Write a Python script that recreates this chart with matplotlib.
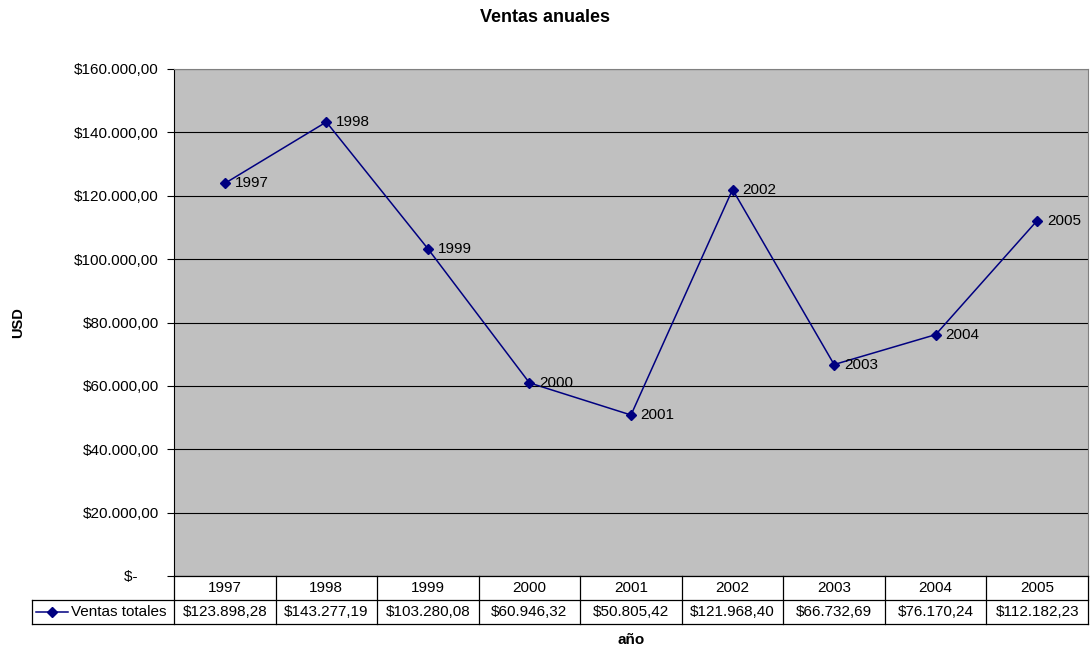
import matplotlib.pyplot as plt
from matplotlib.lines import Line2D
import numpy as np

plt.rcParams['font.family'] = ['Liberation Sans', 'DejaVu Sans']

years = ['1997', '1998', '1999', '2000', '2001', '2002', '2003', '2004', '2005']
ventas = [123898.28, 143277.19, 103280.08, 60946.32, 50805.42,
          121968.40, 66732.69, 76170.24, 112182.23]
yticks = np.arange(0, 160001, 20000)


def fmt_usd(v):
    s = '{:,.2f}'.format(v)
    return '$' + s.replace(',', 'X').replace('.', ',').replace('X', '.')


def fmt_tick(v):
    # accounting style: zero shows as a dash, padded like the other labels
    return '$-     ' if v == 0 else fmt_usd(v)


W, H = 1090, 650
fig = plt.figure(figsize=(W / 100, H / 100), dpi=100)

# plot area in pixel coordinates
x0, x1, ytop, ybot = 174, 1088, 69, 576
ax = fig.add_axes([x0 / W, 1 - ybot / H, (x1 - x0) / W, (ybot - ytop) / H])
ax.set_facecolor('#C0C0C0')

n = len(years)
xs = np.arange(n)
ax.set_xlim(-0.5, n - 0.5)
ax.set_ylim(0, 160000)
ax.set_yticks(yticks)
ax.set_yticklabels([fmt_tick(v) for v in yticks], fontsize=11)
ax.set_xticks([])
ax.yaxis.grid(True, color='black', linewidth=0.8)
ax.set_axisbelow(True)
ax.tick_params(axis='y', length=5, width=0.8, pad=6, direction='out')
for side in ['top', 'right']:
    ax.spines[side].set_color('#808080')
ax.spines['left'].set_color('black')
ax.spines['bottom'].set_visible(False)

ax.plot(xs, ventas, color='#000080', linewidth=1.1, marker='D', markersize=5.5,
        markerfacecolor='#000080', markeredgecolor='#000080')
for x, v, yr in zip(xs, ventas, years):
    ax.annotate(yr, (x, v), xytext=(7, 0), textcoords='offset points',
                ha='left', va='center', fontsize=11)

# data table under the plot
r0, r1, r2 = 576, 600, 624
lx = 32
col_w = (x1 - x0) / n
fy = lambda p: 1 - p / H
fx = lambda p: p / W
lk = dict(color='black', linewidth=0.9, transform=fig.transFigure)
fig.add_artist(Line2D([fx(x0), fx(x1)], [fy(r0), fy(r0)], **lk))
fig.add_artist(Line2D([fx(lx), fx(x1)], [fy(r1), fy(r1)], **lk))
fig.add_artist(Line2D([fx(lx), fx(x1)], [fy(r2), fy(r2)], **lk))
fig.add_artist(Line2D([fx(lx), fx(lx)], [fy(r1), fy(r2)], **lk))
for i in range(n + 1):
    xp = x0 + i * col_w
    fig.add_artist(Line2D([fx(xp), fx(xp)], [fy(r0), fy(r2)], **lk))
for i, (yr, v) in enumerate(zip(years, ventas)):
    xc = x0 + (i + 0.5) * col_w
    fig.text(fx(xc), fy((r0 + r1) / 2), yr, ha='center', va='center', fontsize=11)
    fig.text(fx(xc), fy((r1 + r2) / 2), fmt_usd(v), ha='center', va='center', fontsize=11)

# legend key inside the table
ym = fy((r1 + r2) / 2)
fig.add_artist(Line2D([fx(36), fx(68)], [ym, ym], color='#000080', linewidth=1.1,
                      transform=fig.transFigure))
fig.add_artist(Line2D([fx(52)], [ym], color='#000080', marker='D', markersize=5.5,
                      linestyle='none', transform=fig.transFigure))
fig.text(fx(71), ym, 'Ventas totales', ha='left', va='center', fontsize=11)

fig.text(0.5, fy(17), 'Ventas anuales', ha='center', va='center', fontsize=13, fontweight='bold')
fig.text(fx(18), fy(323), 'USD', ha='center', va='center', rotation=90,
         fontsize=10.5, fontweight='bold')
fig.text(fx(631), fy(640), 'año', ha='center', va='center', fontsize=11, fontweight='bold')

fig.savefig('out.png', dpi=100)
